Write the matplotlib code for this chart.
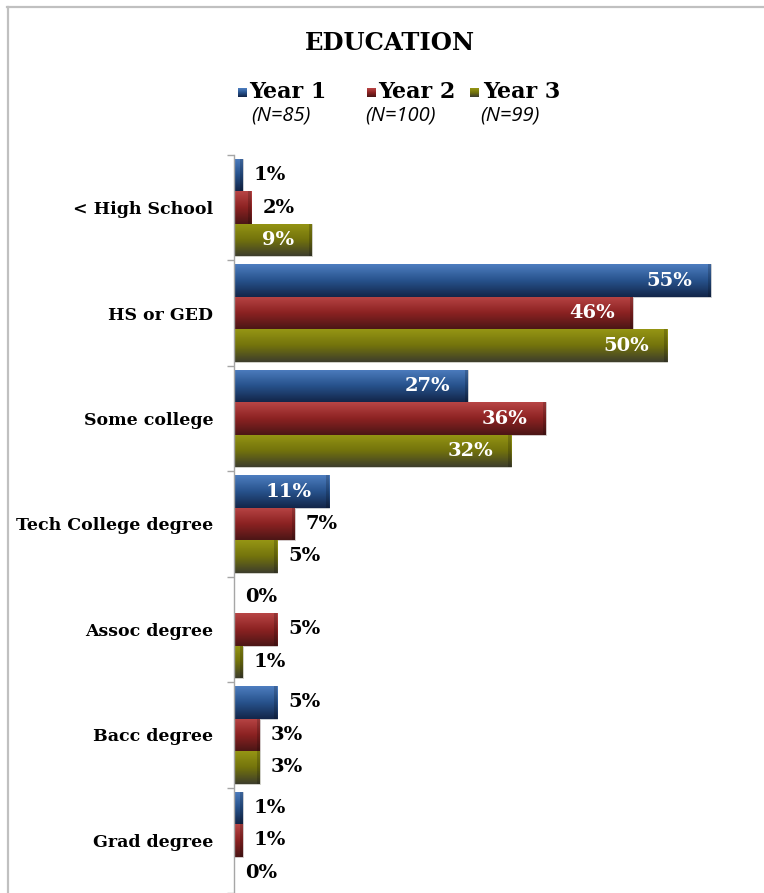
import numpy as np
import matplotlib
matplotlib.use("Agg")
import matplotlib.pyplot as plt
from matplotlib.colors import LinearSegmentedColormap
from matplotlib.patches import Rectangle
from matplotlib.lines import Line2D

categories = ["< High School", "HS or GED", "Some college", "Tech College degree",
              "Assoc degree", "Bacc degree", "Grad degree"]
series_names = ["Year 1", "Year 2", "Year 3"]
series_n = ["(N=85)", "(N=100)", "(N=99)"]
year1 = [1, 55, 27, 11, 0, 5, 1]
year2 = [2, 46, 36, 7, 5, 3, 1]
year3 = [9, 50, 32, 5, 1, 3, 0]

# top / middle / bottom shades for the glossy bar fill
shades = [
    ["#4d7dbf", "#27528c", "#13264a"],
    ["#b84545", "#8c2222", "#4c1616"],
    ["#959514", "#73730c", "#3e3e2c"],
]

W, H = 764, 893
fig = plt.figure(figsize=(W / 100, H / 100), dpi=100)
serif = "DejaVu Serif"

ax = fig.add_axes([234 / W, 0, 520 / W, 1 - 155 / H])
bar_h = 0.308
values = [year1, year2, year3]

for j, vals in enumerate(values):
    cmap = LinearSegmentedColormap.from_list(f"s{j}", shades[j])
    grad = np.linspace(0, 1, 64).reshape(-1, 1)
    ypos = np.arange(len(categories)) + (j - 1) * bar_h
    bars = ax.barh(ypos, vals, height=bar_h, color=shades[j][1],
                   edgecolor="#d4d4d4", linewidth=0.6, zorder=2)
    for rect, v, y in zip(bars, vals, ypos):
        if v > 0:
            y0 = y - bar_h / 2
            im = ax.imshow(grad, extent=(0, v, y0 + bar_h, y0), aspect="auto",
                           cmap=cmap, zorder=2.5, interpolation="bilinear")
            im.set_clip_path(rect)
            # darker bevel at the bar end
            ax.add_patch(Rectangle((v - 0.35, y0), 0.35, bar_h, facecolor="black",
                                   alpha=0.18, zorder=2.6, linewidth=0))
        if v >= 9:
            ax.annotate(f"{v}%", (v, y), xytext=(-13, 0), textcoords="offset points",
                        ha="right", va="center", color="white", fontsize=14,
                        fontweight="bold", family=serif, zorder=4)
        else:
            ax.annotate(f"{v}%", (v, y), xytext=(8, 0), textcoords="offset points",
                        ha="left", va="center", color="black", fontsize=14,
                        fontweight="bold", family=serif, zorder=4)

ax.set_xlim(0, 60)
ax.set_ylim(len(categories) - 0.5, -0.5)
ax.set_yticks(np.arange(len(categories)))
ax.set_yticklabels(categories, fontsize=12.5, fontweight="bold", family=serif)
ax.set_yticks(np.arange(len(categories) + 1) - 0.5, minor=True)
ax.tick_params(axis="y", which="major", length=0, pad=15)
ax.tick_params(axis="y", which="minor", length=5, color="#a6a6a6", width=1)
ax.set_xticks([])
for s in ["top", "right", "bottom"]:
    ax.spines[s].set_visible(False)
ax.spines["left"].set_color("#a6a6a6")
ax.spines["left"].set_linewidth(1)
ax.patch.set_alpha(0)

# title
fig.text(390 / W, 1 - 43 / H, "EDUCATION", ha="center", va="center",
         fontsize=17.5, fontweight="bold", family=serif)

# legend drawn as figure-level artists
sq_x = [238, 367, 470]
txt_x = [249, 378, 483]
n_x = [281, 400, 510]
for j in range(3):
    cmap = LinearSegmentedColormap.from_list(f"l{j}", shades[j])
    lax = fig.add_axes([sq_x[j] / W, 1 - 97 / H, 9 / W, 9 / H])
    lax.imshow(np.linspace(0, 1, 16).reshape(-1, 1), cmap=cmap, aspect="auto")
    lax.axis("off")
    fig.text(txt_x[j] / W, 1 - 92 / H, series_names[j], ha="left", va="center",
             fontsize=16, fontweight="bold", family=serif)
    fig.text(n_x[j] / W, 1 - 115 / H, series_n[j], ha="center", va="center",
             fontsize=14.5, style="italic", family="Open Sans")

# chart-area frame edges
fig.add_artist(Line2D([7 / W, 1], [1 - 7 / H, 1 - 7 / H], color="#c0c0c0", lw=1.6))
fig.add_artist(Line2D([8 / W, 8 / W], [0, 1 - 7 / H], color="#c0c0c0", lw=1.6))

fig.savefig("out.png", dpi=100)
